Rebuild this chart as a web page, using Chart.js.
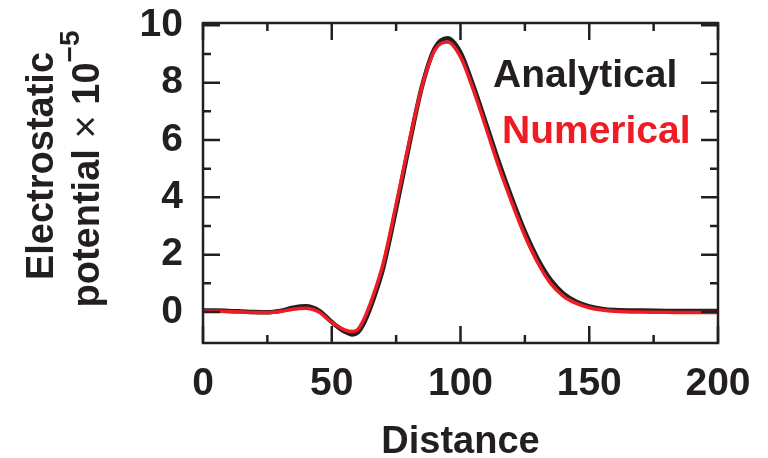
<!DOCTYPE html>
<html>
<head>
<title>Electrostatic potential</title>
<script src="https://cdn.jsdelivr.net/npm/chart.js"></script>
<style>
  body { margin: 0; background: #fff; }
</style>
</head>
<body>
<canvas id="potentialChart" width="768" height="458"></canvas>
<script>
// distance samples (x) and the two curves
var distance   = [0, 5, 10, 15, 20, 25, 30, 35, 40, 45, 50, 55, 58, 60, 62.5, 65, 67.5, 70, 75, 80, 85, 90, 95, 100, 105, 110, 115, 120, 125, 130, 135, 140, 145, 150, 155, 160, 170, 180, 190, 200];
var analytical = [0.05, 0.05, 0.04, 0.02, 0.0, -0.01, 0.04, 0.15, 0.2, 0.05, -0.35, -0.68, -0.78, -0.72, -0.38, 0.15, 0.8, 1.55, 3.6, 5.8, 7.85, 9.2, 9.55, 9.05, 7.88, 6.55, 5.2, 3.95, 2.8, 1.85, 1.12, 0.64, 0.36, 0.2, 0.11, 0.07, 0.05, 0.04, 0.04, 0.04];
var numerical  = [0.03, 0.03, 0.02, 0.0, -0.02, -0.02, 0.02, 0.1, 0.13, 0.0, -0.36, -0.62, -0.68, -0.62, -0.25, 0.3, 0.95, 1.7, 3.75, 5.9, 7.85, 9.13, 9.42, 8.9, 7.75, 6.4, 5.03, 3.8, 2.66, 1.72, 1.0, 0.55, 0.3, 0.15, 0.07, 0.03, 0.0, -0.01, -0.02, -0.02];

var xTicks = [0, 50, 100, 150, 200];
var xMinor = [25, 75, 125, 175];
var yTicks = [0, 2, 4, 6, 8, 10];
var yMinor = [1, 3, 5, 7, 9];

var INK = '#231f20';
var RED = '#ee1c25';
var FONT = '"Liberation Sans", Arial, Helvetica, sans-serif';

function pairs(xs, ys) {
    return xs.map(function (x, i) { return { x: x, y: ys[i] }; });
}

// frame, inward ticks, axis titles and the text legend
var decorations = {
    id: 'decorations',
    afterDraw: function (chart) {
        var ctx = chart.ctx;
        var a = chart.chartArea;
        var xs = chart.scales.x, ys = chart.scales.y;
        ctx.save();
        ctx.strokeStyle = INK;
        ctx.lineWidth = 2.5;
        ctx.strokeRect(a.left, a.top, a.right - a.left, a.bottom - a.top);

        function xTick(v, len) {
            var px = xs.getPixelForValue(v);
            ctx.beginPath();
            ctx.moveTo(px, a.bottom); ctx.lineTo(px, a.bottom - len);
            ctx.moveTo(px, a.top); ctx.lineTo(px, a.top + len);
            ctx.stroke();
        }
        function yTick(v, len) {
            var py = ys.getPixelForValue(v);
            ctx.beginPath();
            ctx.moveTo(a.left, py); ctx.lineTo(a.left + len, py);
            ctx.moveTo(a.right, py); ctx.lineTo(a.right - len, py);
            ctx.stroke();
        }
        xTicks.forEach(function (v) { xTick(v, 17); });
        xMinor.forEach(function (v) { xTick(v, 8); });
        yTicks.forEach(function (v) { yTick(v, 17); });
        yMinor.forEach(function (v) { yTick(v, 8); });

        // x title
        ctx.fillStyle = INK;
        ctx.font = 'bold 38px ' + FONT;
        ctx.textAlign = 'center';
        ctx.textBaseline = 'alphabetic';
        ctx.fillText('Distance', (a.left + a.right) / 2, 453);

        // y title, two rotated lines
        ctx.save();
        ctx.translate(53, 166);
        ctx.rotate(-Math.PI / 2);
        ctx.font = 'bold 38px ' + FONT;
        ctx.fillText('Electrostatic', 0, 0);
        ctx.restore();

        ctx.save();
        ctx.translate(99, 169);
        ctx.rotate(-Math.PI / 2);
        var parts = [
            { t: 'potential ', f: 'bold 38px ' + FONT, dy: 0 },
            { t: '\u00d7', f: '40px ' + FONT, dy: 0 },
            { t: ' 10', f: 'bold 38px ' + FONT, dy: 0 },
            { t: '\u22125', f: 'bold 28px ' + FONT, dy: -20 }
        ];
        var total = 0;
        parts.forEach(function (p) { ctx.font = p.f; p.w = ctx.measureText(p.t).width; total += p.w; });
        var cx = -total / 2;
        ctx.textAlign = 'left';
        parts.forEach(function (p) { ctx.font = p.f; ctx.fillText(p.t, cx, p.dy); cx += p.w; });
        ctx.restore();

        // legend
        ctx.textAlign = 'left';
        ctx.font = 'bold 39px ' + FONT;
        ctx.fillStyle = INK;
        ctx.fillText('Analytical', 493, 87);
        ctx.fillStyle = RED;
        ctx.fillText('Numerical', 502, 143);
        ctx.restore();
    }
};

var ctx = document.getElementById('potentialChart').getContext('2d');
var chart = new Chart(ctx, {
    type: 'line',
    data: {
        datasets: [{
            label: 'Analytical',
            data: pairs(distance, analytical),
            borderColor: INK,
            borderWidth: 4.5,
            pointRadius: 0,
            cubicInterpolationMode: 'monotone',
            order: 2
        }, {
            label: 'Numerical',
            data: pairs(distance, numerical),
            borderColor: RED,
            borderWidth: 3.5,
            pointRadius: 0,
            cubicInterpolationMode: 'monotone',
            order: 1
        }]
    },
    options: {
        responsive: false,
        animation: false,
        layout: { padding: { top: 23, right: 50, left: 0, bottom: 0 } },
        plugins: {
            legend: { display: false },
            tooltip: { enabled: false }
        },
        scales: {
            x: {
                type: 'linear',
                min: 0,
                max: 200,
                grid: { display: false, drawTicks: false },
                border: { display: false },
                ticks: {
                    color: INK,
                    padding: 18,
                    font: { family: FONT, size: 39, weight: 'bold' }
                },
                afterBuildTicks: function (s) { s.ticks = xTicks.map(function (v) { return { value: v }; }); },
                afterFit: function (s) { s.height = 115; s.paddingLeft = 0; s.paddingRight = 0; }
            },
            y: {
                min: -1.08,
                max: 10.08,
                grid: { display: false, drawTicks: false },
                border: { display: false },
                ticks: {
                    color: INK,
                    padding: 20,
                    font: { family: FONT, size: 39, weight: 'bold' }
                },
                afterBuildTicks: function (s) { s.ticks = yTicks.map(function (v) { return { value: v }; }); },
                afterFit: function (s) { s.width = 203; s.paddingTop = 0; s.paddingBottom = 0; }
            }
        }
    },
    plugins: [decorations]
});
</script>
</body>
</html>
